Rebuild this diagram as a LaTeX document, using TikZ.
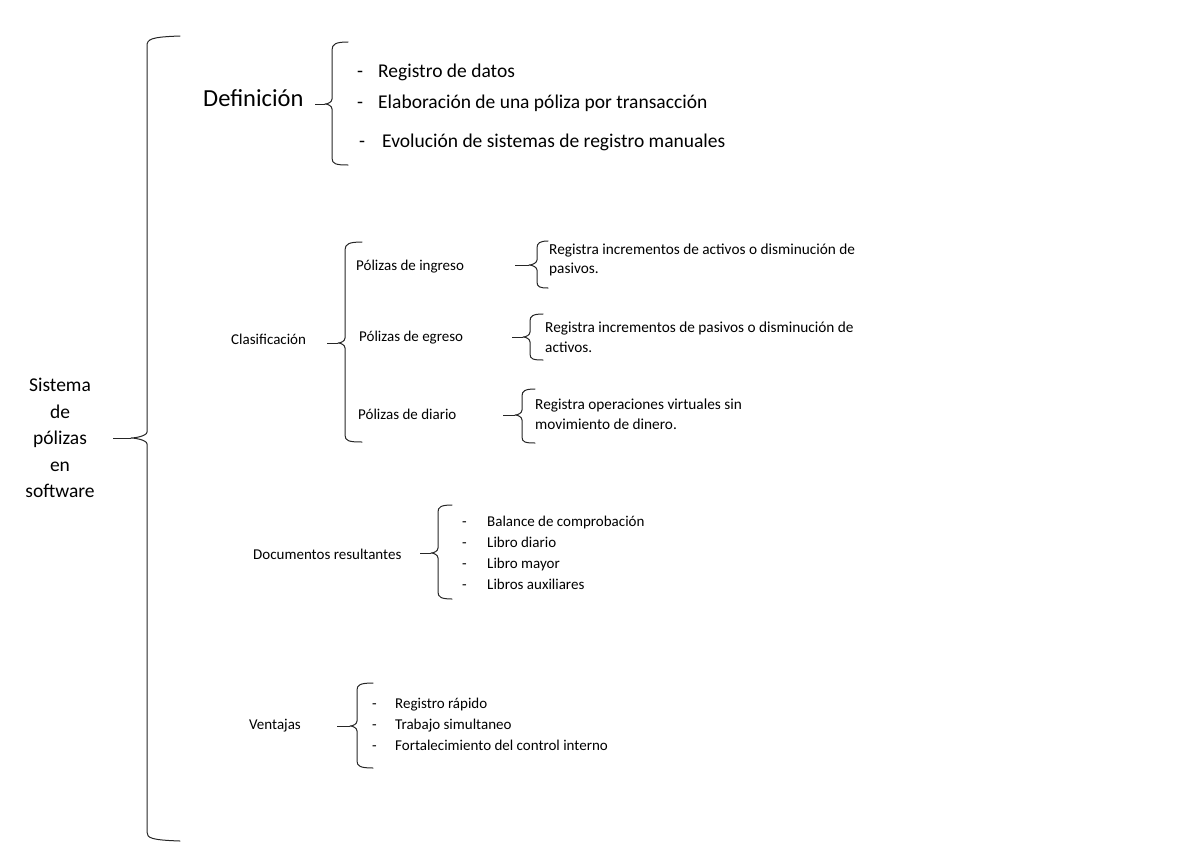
\documentclass[tikz,border=0pt]{standalone}
\usepackage{fontspec}
\setmainfont{Carlito}

\begin{document}
\begin{tikzpicture}[
  x=1pt,y=-1pt,
  bracket/.style={line width=1pt, draw=black!85, line cap=round, line join=round},
  stub/.style={line width=1pt, draw=black!85},
  rootlabel/.style={align=center, inner sep=0pt, font=\fontsize{19.5}{26.5}\selectfont},
  title/.style={anchor=west, inner sep=0pt, text height=0.9em, text depth=0.1em, font=\fontsize{24.5}{28}\selectfont},
  bigitem/.style={anchor=west, inner sep=0pt, text height=0.9em, text depth=0.1em, font=\fontsize{19.5}{22}\selectfont},
  term/.style={anchor=west, inner sep=0pt, text height=0.9em, text depth=0.1em, font=\fontsize{15}{19}\selectfont},
  note/.style={anchor=west, inner sep=0pt, align=left, font=\fontsize{15.3}{19.5}\selectfont}
]
\useasboundingbox (0,0) rectangle (1200,849);

% Tips and stub ends of the braces
\coordinate (rootStub) at (113,438);  \coordinate (rootTip) at (131,438);
\coordinate (defStub) at (315,104);   \coordinate (defTip) at (325,104);
\coordinate (clasStub) at (327,343);  \coordinate (clasTip) at (338,343);
\coordinate (ingStub) at (515,265);   \coordinate (ingTip) at (529,265);
\coordinate (egrStub) at (512,337);   \coordinate (egrTip) at (523,337);
\coordinate (diaStub) at (503,415);   \coordinate (diaTip) at (515,415);
\coordinate (docStub) at (420,553);   \coordinate (docTip) at (431,553);
\coordinate (ventStub) at (337,726);  \coordinate (ventTip) at (350,726);

% Main subject
\node[rootlabel] (root) at (60,438) {Sistema\\de\\pólizas\\en\\software};

% Main brace
\draw[bracket] (180,36) .. controls (151,37) and (147,39) .. (147,46) -- (147,432)
  .. controls (147,436) and (135,438) .. (rootTip) .. controls (135,438) and (147,440) .. (147,444)
  -- (147,832) .. controls (147,838) and (151,840) .. (180,841);
\draw[stub] (rootStub) -- (rootTip);

% Definicion
\node[title] (def) at (203,102) {Definición};
\draw[bracket] (348,42) .. controls (336,42) and (332,44) .. (332,50) -- (332,99)
  .. controls (332,102) and (328,104) .. (defTip) .. controls (328,104) and (332,106) .. (332,109)
  -- (332,158) .. controls (332,164) and (336,165) .. (348,165);
\draw[stub] (defStub) -- (defTip);
\node[bigitem] (defd1) at (357,73) {-};
\node[bigitem] (defd2) at (357,104) {-};
\node[bigitem] (defd3) at (359,143) {-};
\node[bigitem] (def1) at (378,73) {Registro de datos};
\node[bigitem] (def2) at (378,104) {Elaboración de una póliza por transacción};
\node[bigitem] (def3) at (382,143) {Evolución de sistemas de registro manuales};

% Clasificacion
\node[term] (clas) at (231,340) {Clasificación};
\draw[bracket] (362,242) .. controls (349,242) and (345,244) .. (345,250) -- (345,338)
  .. controls (345,341) and (341,343) .. (clasTip) .. controls (341,343) and (345,345) .. (345,348)
  -- (345,435) .. controls (345,441) and (349,442) .. (362,442);
\draw[stub] (clasStub) -- (clasTip);
\node[term] (ing) at (356,266) {Pólizas de ingreso};
\node[term] (egr) at (359,337) {Pólizas de egreso};
\node[term] (dia) at (358,415) {Pólizas de diario};

% Polizas de ingreso
\draw[bracket] (548,241) .. controls (540,241) and (537,243) .. (537,248) -- (537,260)
  .. controls (537,263) and (532,265) .. (ingTip) .. controls (532,265) and (537,267) .. (537,270)
  -- (537,282) .. controls (537,287) and (540,288) .. (548,288);
\draw[stub] (ingStub) -- (ingTip);
\node[note] (ingtxt) at (549,260) {Registra incrementos de activos o disminución de\\pasivos.};

% Polizas de egreso
\draw[bracket] (543,314) .. controls (533,314) and (530,316) .. (530,321) -- (530,332)
  .. controls (530,335) and (526,337) .. (egrTip) .. controls (526,337) and (530,339) .. (530,342)
  -- (530,354) .. controls (530,359) and (533,360) .. (543,360);
\draw[stub] (egrStub) -- (egrTip);
\node[note] (egrtxt) at (545,337) {Registra incrementos de pasivos o disminución de\\activos.};

% Polizas de diario
\draw[bracket] (535,389) .. controls (525,389) and (522,391) .. (522,396) -- (522,410)
  .. controls (522,413) and (518,415) .. (diaTip) .. controls (518,415) and (522,417) .. (522,420)
  -- (522,437) .. controls (522,442) and (525,443) .. (535,443);
\draw[stub] (diaStub) -- (diaTip);
\node[note] (diatxt) at (535,414) {Registra operaciones virtuales sin\\movimiento de dinero.};

% Documentos resultantes
\node[term] (doc) at (253,555) {Documentos resultantes};
\draw[bracket] (452,505) .. controls (441,505) and (438,507) .. (438,512) -- (438,548)
  .. controls (438,551) and (434,553) .. (docTip) .. controls (434,553) and (438,555) .. (438,558)
  -- (438,592) .. controls (438,597) and (441,599) .. (452,599);
\draw[stub] (docStub) -- (docTip);
\node[term] (docd1) at (462,522) {-};
\node[term] (docd2) at (462,543) {-};
\node[term] (docd3) at (462,564) {-};
\node[term] (docd4) at (462,585) {-};
\node[term] (doc1) at (487,522) {Balance de comprobación};
\node[term] (doc2) at (487,543) {Libro diario};
\node[term] (doc3) at (487,564) {Libro mayor};
\node[term] (doc4) at (487,585) {Libros auxiliares};

% Ventajas
\node[term] (vent) at (249,725) {Ventajas};
\draw[bracket] (373,683) .. controls (360,683) and (357,685) .. (357,690) -- (357,721)
  .. controls (357,724) and (353,726) .. (ventTip) .. controls (353,726) and (357,728) .. (357,731)
  -- (357,761) .. controls (357,766) and (360,768) .. (373,768);
\draw[stub] (ventStub) -- (ventTip);
\node[term] (ventd1) at (372,704) {-};
\node[term] (ventd2) at (372,725) {-};
\node[term] (ventd3) at (372,746) {-};
\node[term] (vent1) at (395,704) {Registro rápido};
\node[term] (vent2) at (395,725) {Trabajo simultaneo};
\node[term] (vent3) at (395,746) {Fortalecimiento del control interno};

\end{tikzpicture}
\end{document}
